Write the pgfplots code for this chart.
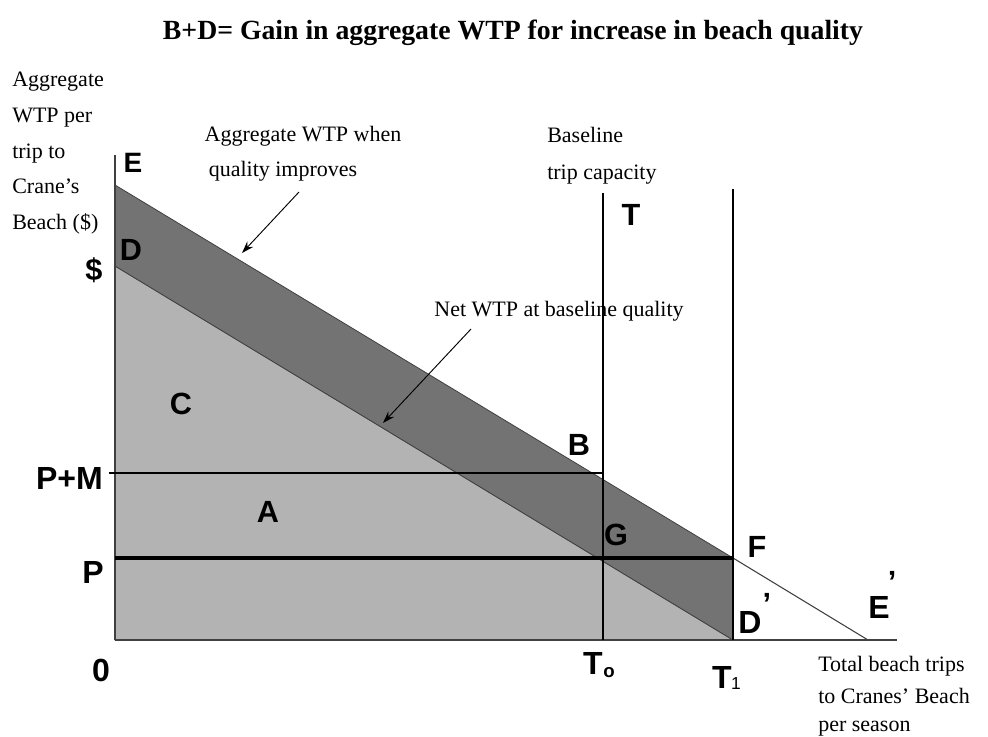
\documentclass[border=0pt]{standalone}
\usepackage{pgfplots}
\pgfplotsset{compat=1.18}
\usepackage{fontspec}
\setmainfont{Liberation Serif}
\newfontfamily\lab{Liberation Sans}
\usetikzlibrary{arrows.meta}
\definecolor{lightg}{HTML}{B3B3B3}
\definecolor{darkg}{HTML}{737373}
\definecolor{axg}{HTML}{404040}
\begin{document}
\begin{tikzpicture}
\begin{axis}[
  scale only axis, width=586.5pt, height=363.75pt,
  xmin=0, xmax=782, ymin=0, ymax=485,
  axis lines=none, clip=false,
]
% areas
\addplot[fill=lightg, draw=axg, line width=0.5pt] coordinates {(0,0) (0,374) (618,0)} -- cycle;
\addplot[fill=darkg, draw=axg, line width=0.6pt] coordinates {(0,374) (0,455) (618,82) (618,0)} -- cycle;
% thin continuation
\addplot[draw=axg, line width=0.8pt] coordinates {(618,82) (753,0)};
% axes
\addplot[draw=axg, line width=1.6pt] coordinates {(0,0) (0,485)};
\addplot[draw=axg, line width=1.8pt] coordinates {(0,0) (782,0)};
% vertical lines
\addplot[draw=black, line width=1.6pt] coordinates {(488,0) (488,447)};
\addplot[draw=black, line width=1.6pt] coordinates {(618,0) (618,451)};
% horizontal lines
\addplot[draw=black, line width=1.9pt] coordinates {(-6,167) (488,167)};
\addplot[draw=black, line width=3pt] coordinates {(0,82) (618,82)};
% arrows
\draw[-{Stealth[length=9pt,width=6pt]}, line width=0.7pt] (axis cs:184,448) -- (axis cs:127,387);
\draw[-{Stealth[length=9pt,width=6pt]}, line width=0.7pt] (axis cs:356,311) -- (axis cs:268,217);
% title
\node[font=\fontsize{20.8}{24}\selectfont\bfseries] at (axis cs:398,607) {B+D= Gain in aggregate WTP for increase in beach quality};
% y label
\begin{scope}[every node/.style={font=\fontsize{16.5}{20}\selectfont, anchor=base west, inner sep=0pt}]
\node at (axis cs:-103,553) {Aggregate};
\node at (axis cs:-103,517) {WTP per};
\node at (axis cs:-103,481) {trip to};
\node at (axis cs:-103,446) {Crane's};
\node at (axis cs:-103,410) {Beach (\$)};
\node[anchor=base] at (axis cs:188,498) {Aggregate WTP when};
\node[anchor=base] at (axis cs:168,463) {quality improves};
\node[anchor=base] at (axis cs:444,323) {Net WTP at baseline quality};
\node at (axis cs:432,497) {Baseline};
\node at (axis cs:432,460) {trip capacity};
\node at (axis cs:703,-31) {Total beach trips};
\node at (axis cs:703,-63) {to Cranes' Beach};
\node at (axis cs:703,-91) {per season};
\end{scope}
% bold letters
\begin{scope}[every node/.style={font=\lab\bfseries\fontsize{23}{26}\selectfont, inner sep=0pt}]
\node[font=\lab\bfseries\fontsize{21}{24}\selectfont] at (axis cs:18,477) {E};
\node at (axis cs:16,390) {D};
\node at (axis cs:-21,370) {\$};
\node at (axis cs:66,236) {C};
\node at (axis cs:153,128) {A};
\node[anchor=east, font=\lab\bfseries\fontsize{24}{26}\selectfont] at (axis cs:-12,162) {P+M};
\node[font=\lab\bfseries\fontsize{24}{26}\selectfont] at (axis cs:-22,68) {P};
\node[font=\lab\bfseries\fontsize{24}{26}\selectfont] at (axis cs:-14,-30) {0};
\node at (axis cs:464,195) {B};
\node at (axis cs:501,105) {G};
\node at (axis cs:642,93) {F};
\node at (axis cs:516,425) {T};
\node[font=\lab\bfseries\fontsize{24}{26}\selectfont] at (axis cs:635,18) {D};
\node at (axis cs:652,36) {’};
\node[font=\lab\bfseries\fontsize{24}{26}\selectfont] at (axis cs:764,33) {E};
\node at (axis cs:777,58) {’};
\node[font=\lab\bfseries\fontsize{24}{26}\selectfont] at (axis cs:478,-23) {T};
\node[font=\lab\bfseries\fontsize{14}{16}\selectfont] at (axis cs:494,-33) {o};
\node[font=\lab\bfseries\fontsize{24}{26}\selectfont] at (axis cs:607,-37) {T};
\node[font=\lab\fontsize{13}{14}\selectfont] at (axis cs:621,-44) {1};
\end{scope}
\coordinate (bl) at (axis cs:-115,-96);
\coordinate (tr) at (axis cs:873,640);
\end{axis}
\pgfresetboundingbox
\path[use as bounding box] (bl) rectangle (tr);
\end{tikzpicture}
\end{document}
